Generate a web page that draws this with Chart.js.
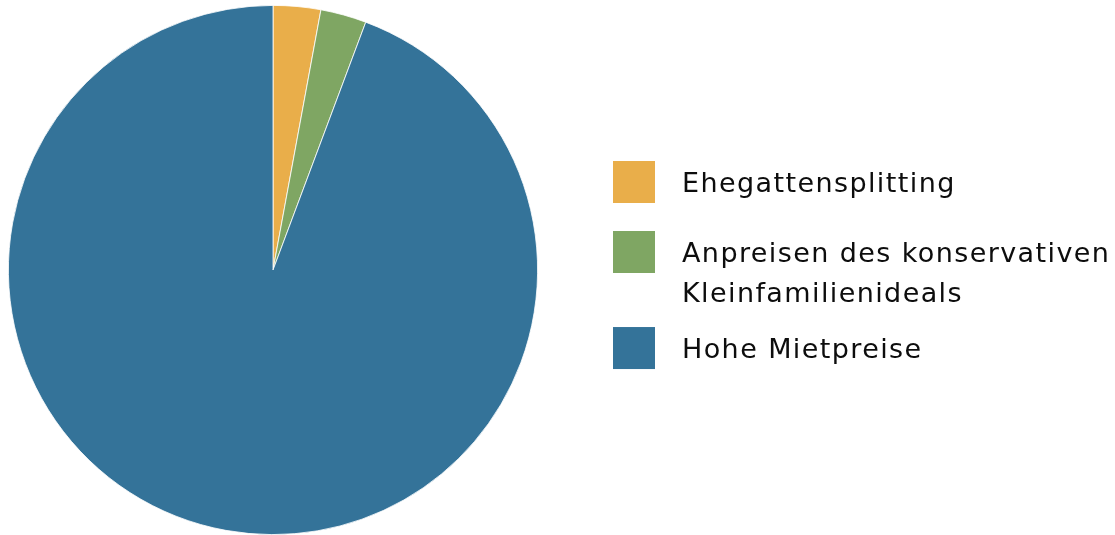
<!DOCTYPE html>
<html>
<head>
<meta charset="utf-8">
<script src="https://cdn.jsdelivr.net/npm/chart.js@4"></script>
<style>
  html, body { margin: 0; padding: 0; background: #fff; }
  #wrap { width: 1115px; height: 535px; }
</style>
</head>
<body>
<div id="wrap"><canvas id="pieChart"></canvas></div>
<script>
const categories = [
    'Ehegattensplitting',
    ['Anpreisen des konservativen', 'Kleinfamilienideals'],
    'Hohe Mietpreise'
];
const shares = [2.9, 2.8, 94.3];
const colors = ['#E9AE4A', '#7FA663', '#347399'];

// legend drawn next to the pie, boxes left, wrapped text right
const sideLegend = {
    id: 'sideLegend',
    afterDraw(chart, args, opts) {
        const ctx = chart.ctx;
        const ds = chart.data.datasets[0];
        ctx.save();
        ctx.font = opts.fontSize + 'px ' + opts.fontFamily;
        ctx.letterSpacing = opts.letterSpacing + 'px';
        ctx.textBaseline = 'middle';
        let y = opts.top;
        chart.data.labels.forEach((label, i) => {
            const lines = Array.isArray(label) ? label : [label];
            ctx.fillStyle = ds.backgroundColor[i];
            ctx.fillRect(opts.left, y, opts.box, opts.box);
            ctx.fillStyle = opts.color;
            lines.forEach((line, j) => {
                ctx.fillText(line, opts.left + opts.box + opts.textGap, y + opts.box / 2 + 3 + j * opts.lineHeight);
            });
            const h = Math.max(opts.box, (lines.length - 1) * opts.lineHeight + opts.box * 0.62 + 2);
            y += h + opts.gap;
        });
        ctx.restore();
    }
};

document.addEventListener('DOMContentLoaded', () => {
    new Chart(document.getElementById('pieChart'), {
        type: 'pie',
        data: {
            labels: categories,
            datasets: [{
                data: shares,
                backgroundColor: colors,
                borderColor: '#ffffff',
                borderWidth: 0.8
            }]
        },
        options: {
            responsive: true,
            maintainAspectRatio: false,
            animation: false,
            layout: { padding: { left: 8, top: 5, bottom: 0, right: 577 } },
            plugins: {
                legend: { display: false },
                tooltip: { enabled: false },
                sideLegend: {
                    left: 613, top: 161, box: 42, textGap: 27,
                    lineHeight: 40, gap: 28,
                    fontSize: 27, letterSpacing: 1.4,
                    fontFamily: '"DejaVu Sans", sans-serif', color: '#0d0d0d'
                }
            }
        },
        plugins: [sideLegend]
    });
});
</script>
</body>
</html>
